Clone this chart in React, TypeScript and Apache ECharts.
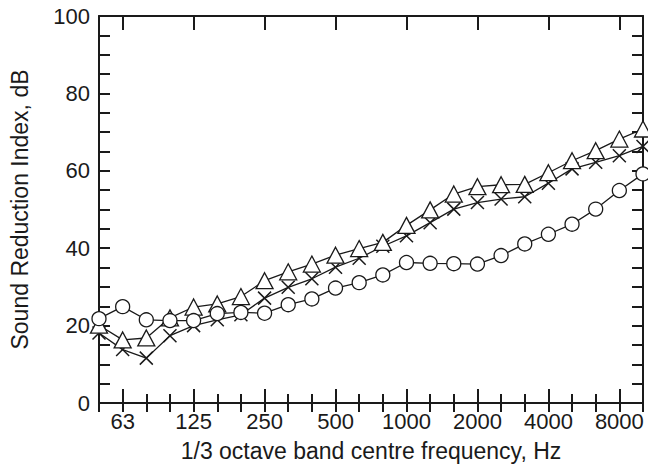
import React, { useEffect, useRef } from "react";
import * as echarts from "echarts";

const freqs = ["50","63","80","100","125","160","200","250","315","400","500","630","800","1000","1250","1600","2000","2500","3150","4000","5000","6300","8000","10000"];
const octaveLabels = ["63","125","250","500","1000","2000","4000","8000"];
const circles = [21.8, 24.9, 21.5, 21.3, 21.3, 23.1, 23.4, 23.2, 25.4, 26.9, 29.7, 31.1, 33.1, 36.3, 36.1, 36.0, 35.9, 38.1, 41.1, 43.6, 46.2, 50.1, 54.9, 59.2];
const triangles = [20.1, 16.3, 16.8, 22.0, 24.8, 25.6, 27.5, 31.6, 33.9, 35.9, 38.2, 39.9, 41.5, 45.9, 49.9, 54.0, 55.9, 56.4, 56.5, 59.5, 62.6, 65.2, 68.2, 70.8];
const crosses = [18.1, 13.8, 11.6, 17.4, 20.0, 21.5, 22.8, 27.1, 29.9, 32.1, 35.1, 37.4, 40.5, 43.2, 46.6, 50.1, 51.8, 52.7, 53.3, 56.8, 60.5, 62.2, 63.9, 66.3];
const yLabels = [0, 20, 40, 60, 80, 100];

const FONT = "'Liberation Sans', Arial, sans-serif";
const INK = "#1a1a1a";

export default function App() {
  const ref = useRef<HTMLDivElement>(null);
  useEffect(() => {
    document.body.style.margin = "0";
    const chart = echarts.init(ref.current!, null, { renderer: "svg" });
    const gridPos = { left: 99, right: 5, top: 16, bottom: 65, outerBoundsMode: "none" };
    const isOctave = (i: number) => octaveLabels.indexOf(freqs[i]) >= 0;
    const baseX = (position: string, gridIndex: number, major: boolean, labels: boolean) => ({
      type: "category",
      data: freqs,
      gridIndex,
      position,
      boundaryGap: false,
      axisLine: { show: true, lineStyle: { color: INK, width: 2 } },
      axisTick: {
        show: true,
        inside: true,
        length: major ? 14 : 9,
        lineStyle: { color: INK, width: 2 },
        interval: major ? (i: number) => isOctave(i) : 0,
      },
      axisLabel: {
        show: labels,
        interval: (i: number) => isOctave(i),
        margin: 7,
        fontSize: 22,
        fontFamily: FONT,
        color: INK,
      },
      splitLine: { show: false },
      name: labels ? "1/3 octave band centre frequency, Hz" : "",
      nameLocation: "middle",
      nameGap: 36,
      nameTextStyle: { fontSize: 23, fontFamily: FONT, color: INK },
    });
    const baseY = (position: string, gridIndex: number, labels: boolean, show: boolean) => ({
      type: "value",
      gridIndex,
      position,
      min: 0,
      max: 100,
      interval: 5,
      show,
      axisLine: { show: true, lineStyle: { color: INK, width: 2 } },
      axisTick: { show: true, inside: true, length: 11, lineStyle: { color: INK, width: 2 } },
      axisLabel: {
        show: labels,
        margin: 9,
        fontSize: 22,
        fontFamily: FONT,
        color: INK,
        formatter: (v: number) => (yLabels.indexOf(v) >= 0 ? String(v) : ""),
      },
      splitLine: { show: false },
      name: labels ? "Sound Reduction Index, dB" : "",
      nameLocation: "middle",
      nameGap: 68,
      nameTextStyle: { fontSize: 23, fontFamily: FONT, color: INK },
    });
    const lineCommon = {
      type: "line",
      xAxisIndex: 0,
      yAxisIndex: 0,
      lineStyle: { color: INK, width: 1.3 },
      showAllSymbol: true,
      emphasis: { disabled: true },
    };
    chart.setOption({
      animation: false,
      backgroundColor: "#ffffff",
      grid: [gridPos, gridPos],
      xAxis: [
        baseX("bottom", 0, false, false),
        baseX("top", 0, false, false),
        baseX("bottom", 1, true, true),
        baseX("top", 1, true, false),
      ],
      yAxis: [
        baseY("left", 0, true, true),
        baseY("right", 0, false, true),
        baseY("left", 1, false, false),
      ],
      series: [
        {
          ...lineCommon,
          name: "cross",
          data: crosses,
          symbol: "path://M0,0L10,10M0,10L10,0",
          symbolSize: 13,
          itemStyle: { color: "none", borderColor: INK, borderWidth: 1.5 },
          z: 2,
        },
        {
          ...lineCommon,
          name: "triangle",
          data: triangles,
          symbol: "triangle",
          symbolSize: [17, 16],
          itemStyle: { color: "#ffffff", borderColor: INK, borderWidth: 1.3 },
          z: 3,
        },
        {
          ...lineCommon,
          name: "circle",
          data: circles,
          symbol: "circle",
          symbolSize: 14,
          itemStyle: { color: "#ffffff", borderColor: INK, borderWidth: 1.3 },
          z: 4,
        },
      ],
    });
    return () => chart.dispose();
  }, []);
  return <div ref={ref} style={{ width: 648, height: 468 }} />;
}
